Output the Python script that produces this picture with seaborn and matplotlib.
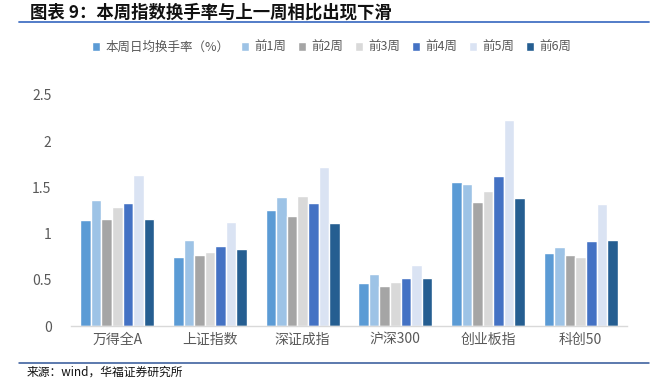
import matplotlib
matplotlib.use("Agg")
import matplotlib.pyplot as plt
import seaborn as sns
import pandas as pd
from matplotlib.lines import Line2D

categories = ["万得全A", "上证指数", "深证成指", "沪深300", "创业板指", "科创50"]
series_names = ["本周日均换手率（%）", "前1周", "前2周", "前3周", "前4周", "前5周", "前6周"]
this_week = [1.15, 0.75, 1.26, 0.47, 1.56, 0.79]
week_1 = [1.36, 0.93, 1.40, 0.56, 1.54, 0.85]
week_2 = [1.155, 0.77, 1.19, 0.43, 1.34, 0.77]
week_3 = [1.29, 0.80, 1.41, 0.48, 1.46, 0.75]
week_4 = [1.33, 0.87, 1.33, 0.52, 1.62, 0.92]
week_5 = [1.63, 1.13, 1.72, 0.66, 2.23, 1.32]
week_6 = [1.16, 0.83, 1.12, 0.52, 1.39, 0.93]
colors = ["#5B9BD5", "#9DC3E6", "#A5A5A5", "#D9D9D9", "#4472C4", "#DAE3F3", "#255E91"]
y_ticks = [0, 0.5, 1, 1.5, 2, 2.5]
y_tick_labels = ["0", "0.5", "1", "1.5", "2", "2.5"]

all_series = [this_week, week_1, week_2, week_3, week_4, week_5, week_6]
rows = []
for name, vals in zip(series_names, all_series):
    for c, v in zip(categories, vals):
        rows.append({"cat": c, "series": name, "value": v})
df = pd.DataFrame(rows)

sns.set_theme(style="white")
plt.rcParams["font.family"] = ["Noto Sans CJK SC", "DejaVu Sans"]

fig = plt.figure(figsize=(6.59, 3.9), dpi=100)
ax = fig.add_axes([71 / 659, 1 - 326 / 390, 556 / 659, 231 / 390])

sns.barplot(data=df, x="cat", y="value", hue="series", order=categories,
            hue_order=series_names, palette=colors, width=0.8, saturation=1,
            edgecolor="white", linewidth=1.0, ax=ax, legend=True)

handles, labels = ax.get_legend_handles_labels()
ax.get_legend().remove()

ax.set_ylim(0, 2.5)
ax.set_xlim(-0.5, len(categories) - 0.5)
ax.set_yticks(y_ticks)
ax.set_yticklabels(y_tick_labels)
ax.set_xlabel("")
ax.set_ylabel("")
for s in ["top", "right", "left"]:
    ax.spines[s].set_visible(False)
ax.spines["bottom"].set_color("#D9D9D9")
ax.spines["bottom"].set_linewidth(1.0)
ax.tick_params(axis="both", length=0, colors="#595959", labelsize=10)
ax.tick_params(axis="y", pad=14)
ax.tick_params(axis="x", pad=5)
ax.grid(False)

leg = fig.legend(handles, labels, loc="center", bbox_to_anchor=(0.503, 1 - 47 / 390),
                 ncol=7, frameon=False, fontsize=9, handlelength=0.7, handleheight=0.7,
                 handletextpad=0.4, columnspacing=0.9, labelcolor="#595959")

fig.text(30 / 659, 1 - 12.5 / 390, "图表 9：本周指数换手率与上一周相比出现下滑",
         fontsize=12.5, fontweight="bold", color="#111111", va="center", ha="left")
fig.add_artist(Line2D([19 / 659, 649 / 659], [1 - 22.3 / 390] * 2,
                      color="#4472C4", linewidth=1.3, transform=fig.transFigure))
fig.add_artist(Line2D([19 / 659, 649 / 659], [1 - 363.3 / 390] * 2,
                      color="#2F5597", linewidth=1.1, transform=fig.transFigure))
fig.text(27 / 659, 1 - 372 / 390, "来源：wind，华福证券研究所",
         fontsize=8.5, color="#111111", va="center", ha="left")

fig.savefig("out.png", dpi=100)
